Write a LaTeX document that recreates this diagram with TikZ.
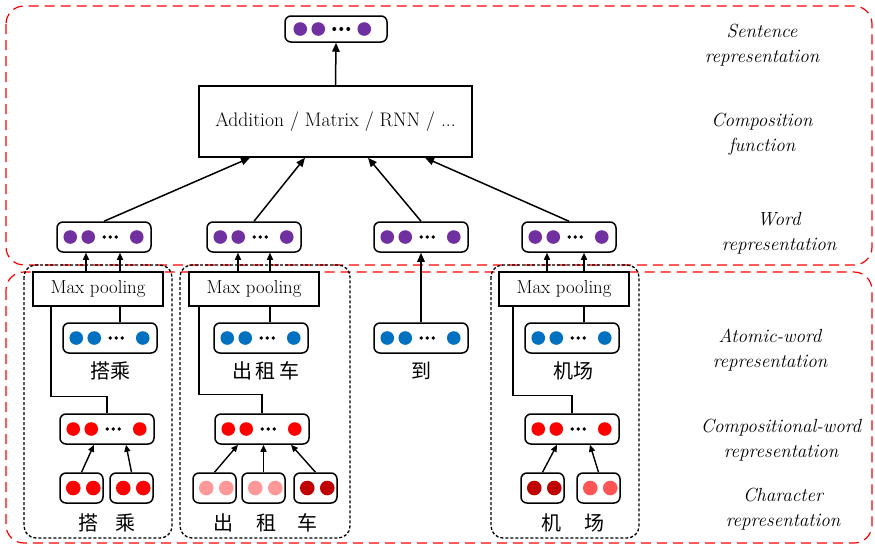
\documentclass[tikz,border=0pt]{standalone}
\usepackage{fontspec}
\newfontfamily\cjk{Noto Sans CJK SC}
\usetikzlibrary{arrows.meta}

\definecolor{vpurple}{HTML}{7030A0}
\definecolor{vblue}{HTML}{0070C0}
\definecolor{vred}{HTML}{FF0000}
\definecolor{vpink}{HTML}{FF9999}
\definecolor{vdark}{HTML}{C00000}
\definecolor{vlight}{HTML}{FF5555}

\tikzset{
  vecbox/.style={draw, line width=1.5pt, rounded corners=6pt, fill=white,
    minimum width=94pt, minimum height=30pt, inner sep=0pt},
  charbox/.style={vecbox, minimum width=43pt},
  poolbox/.style={draw, line width=1.5pt, fill=white, minimum width=130pt,
    minimum height=34pt, inner sep=0pt, font=\fontsize{18.8}{21}\selectfont},
  arr/.style={line width=1.5pt, -{Triangle[length=9pt,width=7.5pt]}},
  sarr/.style={line width=1.4pt, -{Triangle[length=7pt,width=6pt]}},
  link/.style={line width=1.5pt},
  layer/.style={draw=red, line width=1.2pt, dash pattern=on 10pt off 6pt, rounded corners=18pt},
  group/.style={draw, line width=1.3pt, dash pattern=on 3pt off 2pt, rounded corners=12pt},
  tag/.style={align=center, font=\fontsize{19}{25}\selectfont\itshape\addfontfeatures{LetterSpace=7}},
  word/.style={font=\fontsize{20}{22}\selectfont\cjk},
}

% a vector of dots inside a word box
\newcommand\vecdots[2]{%
  \fill[#2] ([xshift=14pt]#1.west) circle (6.8pt)
            ([xshift=32pt]#1.west) circle (6.8pt)
            ([xshift=-15pt]#1.east) circle (6.8pt);
  \fill ([xshift=48pt]#1.west) circle (1.8pt)
        ([xshift=54pt]#1.west) circle (1.8pt)
        ([xshift=60pt]#1.west) circle (1.8pt);
}
% two dots inside a character box
\newcommand\chardots[2]{%
  \fill[#2] ([xshift=14pt]#1.west) circle (7.3pt)
            ([xshift=-10.5pt]#1.east) circle (7.3pt);
}

\begin{document}
\begin{tikzpicture}[x=1pt, y=-1pt]
\useasboundingbox (0,0) rectangle (875,547);

% layers
\draw[layer] (6,6) rectangle (872,265);
\draw[layer] (6,272) rectangle (872,543);

% word groups
\draw[group] (24,265) rectangle (172,538);
\draw[group] (180,265) rectangle (350,538);
\draw[group] (491,265) rectangle (639,538);

% sentence vector
\node[vecbox, minimum width=102pt, minimum height=26pt] (sent) at (336,29) {};
\fill[vpurple] ([xshift=16pt]sent.west) circle (6.8pt)
               ([xshift=34pt]sent.west) circle (6.8pt)
               ([xshift=80pt]sent.west) circle (6.8pt);
\fill ([xshift=50pt]sent.west) circle (2pt)
      ([xshift=57pt]sent.west) circle (2pt)
      ([xshift=64pt]sent.west) circle (2pt);

% composition function
\node[draw, line width=1.5pt, minimum width=273pt, minimum height=71pt,
      font=\fontsize{19.6}{22}\selectfont] (add) at (335.5,121.5)
      {Addition / Matrix / RNN / ...};

% word vectors
\node[vecbox] (w1) at (104,237) {}; \vecdots{w1}{vpurple}
\node[vecbox] (w2) at (254,237) {}; \vecdots{w2}{vpurple}
\node[vecbox] (w3) at (421,237) {}; \vecdots{w3}{vpurple}
\node[vecbox] (w4) at (569,237) {}; \vecdots{w4}{vpurple}

% max pooling
\node[poolbox] (mp1) at (98,289) {Max pooling};
\node[poolbox] (mp2) at (254,289) {Max pooling};
\node[poolbox] (mp4) at (564,289) {Max pooling};

% atomic-word vectors
\node[vecbox] (a1) at (110,338) {}; \vecdots{a1}{vblue}
\node[vecbox] (a2) at (261,338) {}; \vecdots{a2}{vblue}
\node[vecbox] (a3) at (421,338) {}; \vecdots{a3}{vblue}
\node[vecbox] (a4) at (572,338) {}; \vecdots{a4}{vblue}

\node[word] (t1) at (110,371) {搭乘};
\node[word] (t2) at (266,371) {出\,租\,车};
\node[word] (t3) at (421,371) {到};
\node[word] (t4) at (573,371) {机场};

% compositional-word vectors
\node[vecbox] (c1) at (107,429) {}; \vecdots{c1}{vred}
\node[vecbox] (c2) at (262,429) {}; \vecdots{c2}{vred}
\node[vecbox] (c4) at (572,429) {}; \vecdots{c4}{vred}

% character vectors
\node[charbox] (h11) at (81.5,488) {};  \chardots{h11}{vred}
\node[charbox] (h12) at (131.5,488) {}; \chardots{h12}{vred}
\node[charbox] (h21) at (214.5,488) {}; \chardots{h21}{vpink}
\node[charbox] (h22) at (263.5,488) {}; \chardots{h22}{vpink}
\node[charbox] (h23) at (315.5,488) {}; \chardots{h23}{vdark}
\node[charbox] (h41) at (542.5,488) {}; \chardots{h41}{vdark}
\node[charbox] (h42) at (598.5,488) {}; \chardots{h42}{vlight}

\node[word] (s11) at (88,523) {搭};
\node[word] (s12) at (125,523) {乘};
\node[word] (s21) at (223,523) {出};
\node[word] (s22) at (266,523) {租};
\node[word] (s23) at (307,523) {车};
\node[word] (s41) at (551,523) {机};
\node[word] (s42) at (594,523) {场};

% connectors: composition
\draw[arr] (add.north) -- (sent.south);
\draw[arr] (w1.north) -- ([xshift=-85.5pt]add.south);
\draw[arr] (w2.north) -- ([xshift=-30.5pt]add.south);
\draw[arr] (w3.north) -- ([xshift=32.5pt]add.south);
\draw[arr] (w4.north) -- ([xshift=89.5pt]add.south);

% connectors: pooling to word vectors
\draw[sarr] ([xshift=-12pt]mp1.north) -- ([xshift=-18pt]w1.south);
\draw[sarr] ([xshift=22pt]mp1.north) -- ([xshift=16pt]w1.south);
\draw[sarr] ([xshift=-16pt]mp2.north) -- ([xshift=-16pt]w2.south);
\draw[sarr] ([xshift=16pt]mp2.north) -- ([xshift=16pt]w2.south);
\draw[sarr] ([xshift=-17pt]mp4.north) -- ([xshift=-22pt]w4.south);
\draw[sarr] ([xshift=20pt]mp4.north) -- ([xshift=15pt]w4.south);
\draw[arr] (a3.north) -- (w3.south);

% connectors: atomic vectors into pooling
\draw[link] ([xshift=10pt]a1.north) -- ([xshift=22pt]mp1.south);
\draw[link] ([xshift=9pt]a2.north) -- ([xshift=16pt]mp2.south);
\draw[link] ([xshift=12pt]a4.north) -- ([xshift=20pt]mp4.south);

% connectors: compositional vectors into pooling
\draw[link] ([xshift=-47pt]mp1.south) |- ([yshift=17pt]c1.north) -- (c1.north);
\draw[link] ([xshift=-55pt]mp2.south) |- ([yshift=19pt]c2.north) -- (c2.north);
\draw[link] ([xshift=-51pt]mp4.south) |- ([yshift=18pt]c4.north) -- (c4.north);

% connectors: characters into compositional vectors
\draw[sarr] (h11.north) -- ([xshift=-13pt]c1.south);
\draw[sarr] (h12.north) -- ([xshift=19pt]c1.south);
\draw[sarr] (h21.north) -- ([xshift=-24pt]c2.south);
\draw[sarr] (h22.north) -- (h22.north |- c2.south);
\draw[sarr] (h23.north) -- ([xshift=29pt]c2.south);
\draw[sarr] (h41.north) -- ([xshift=-15pt]c4.south);
\draw[sarr] (h42.north) -- ([xshift=18pt]c4.south);

% layer names
\node[tag] (l1) at (762,45.5) {Sentence\\representation};
\node[tag] (l2) at (762,134.5) {Composition\\function};
\node[tag] (l3) at (779,233.5) {Word\\representation};
\node[tag] (l4) at (770,350.5) {Atomic-word\\representation};
\node[tag] (l5) at (781,440) {Compositional-word\\representation};
\node[tag] (l6) at (783,509.5) {Character\\representation};
\end{tikzpicture}
\end{document}
